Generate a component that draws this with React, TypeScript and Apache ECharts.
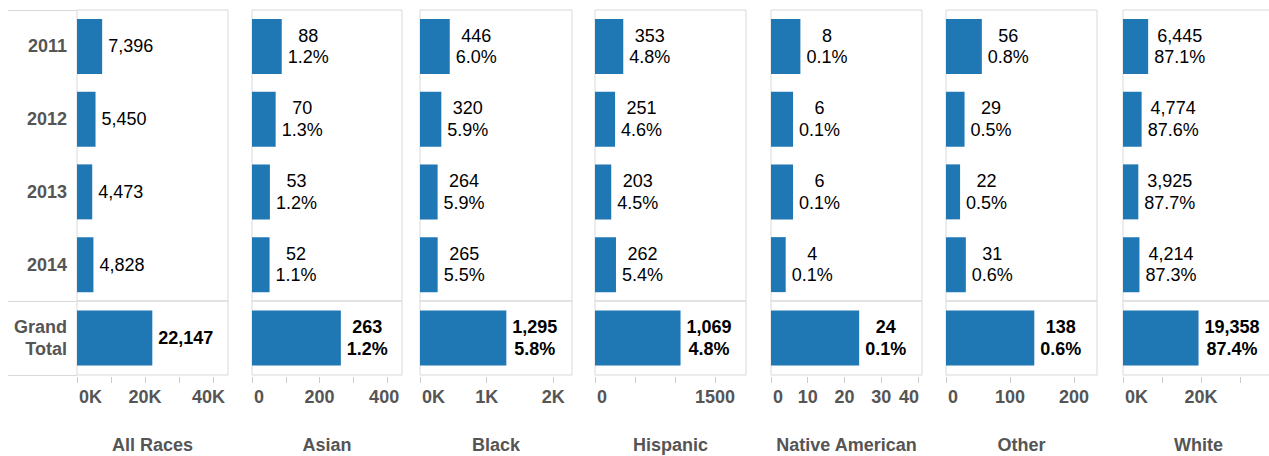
import React, { useEffect, useRef } from 'react';
import * as echarts from 'echarts';

// ---------- data ----------
const years = ['2011', '2012', '2013', '2014'];
const totalLabel = 'Grand Total';
const races = ['All Races', 'Asian', 'Black', 'Hispanic', 'Native American', 'Other', 'White'];
const allRaces = [7396, 5450, 4473, 4828];
const asian = [88, 70, 53, 52];
const black = [446, 320, 264, 265];
const hispanic = [353, 251, 203, 262];
const nativeAmerican = [8, 6, 6, 4];
const other = [56, 29, 22, 31];
const white = [6445, 4774, 3925, 4214];
const grandTotals = [22147, 263, 1295, 1069, 24, 138, 19358];
const yearValues = [allRaces, asian, black, hispanic, nativeAmerican, other, white];

// ---------- axes ----------
const axisMax = [44400, 444, 2280, 1887, 41.1, 236, 38700];
const tickValues = [
  [0, 10000, 20000, 30000, 40000],
  [0, 100, 200, 300, 400],
  [0, 1000, 2000],
  [0, 500, 1000, 1500],
  [0, 10, 20, 30, 40],
  [0, 100, 200],
  [0, 10000, 20000, 30000],
];
const tickLabels = [
  [0, 20000, 40000],
  [0, 200, 400],
  [0, 1000, 2000],
  [0, 1500],
  [0, 10, 20, 30, 40],
  [0, 100, 200],
  [0, 20000],
];
const kFormat = [true, false, true, false, false, false, true];

// ---------- layout ----------
const panelLeft = [77, 252, 420, 595, 771, 946, 1123];
const panelWidth = [151, 150, 152, 151, 151, 151, 151];
const maxLabelPad = [9, 6, 0, 0, 18, 0, 0];
const topY = 10;
const sepY = 301;
const bottomY = 375;

const FONT = '"Liberation Sans", Arial, sans-serif';
const FS = 18;
const BAR = '#1f77b4';
const GRID_LINE = '#d9d9d9';
const AXIS_TEXT = '#555555';

const fmt = (v: number) => v.toLocaleString('en-US');

function App() {
  const ref = useRef<HTMLDivElement>(null);
  useEffect(() => {
    if (!ref.current) return;
    const chart = echarts.init(ref.current, undefined, { renderer: 'svg' });
    const grids: any[] = [];
    const xAxes: any[] = [];
    const yAxes: any[] = [];
    const series: any[] = [];
    const axisFont = { fontFamily: FONT, fontSize: FS, fontWeight: 'bold', color: AXIS_TEXT };

    races.forEach((race, i) => {
      const left = panelLeft[i];
      const width = panelWidth[i];
      const common = { show: true, borderColor: GRID_LINE, borderWidth: 1, backgroundColor: 'transparent', outerBoundsMode: 'none' };
      grids.push({ ...common, left, width, top: topY, height: sepY - topY });
      grids.push({ ...common, left, width, top: sepY, height: bottomY - sepY });

      const labs = tickLabels[i];
      const lastLab = labs[labs.length - 1];
      const labelFmt = (v: number) => {
        const t = kFormat[i] ? `${v / 1000}K` : `${v}`;
        if (v === labs[0]) return `{mn|${t}}`;
        if (v === lastLab && maxLabelPad[i] > 0) return `{mx|${t}}`;
        return t;
      };

      xAxes.push({
        type: 'value', gridIndex: 2 * i, min: 0, max: axisMax[i], show: false,
      });
      xAxes.push({
        type: 'value', gridIndex: 2 * i + 1, min: 0, max: axisMax[i],
        offset: 2,
        axisLine: { show: false },
        splitLine: { show: false },
        axisTick: { show: true, customValues: tickValues[i], length: 6, lineStyle: { color: '#cccccc', width: 1 } },
        axisLabel: {
          customValues: labs, formatter: labelFmt, margin: 11,
          alignMinLabel: 'left',
          ...axisFont,
          rich: {
            mn: { ...axisFont, padding: [0, 0, 0, 2] },
            mx: { ...axisFont, padding: [0, maxLabelPad[i], 0, 0] },
          },
        },
        name: race, nameLocation: 'middle', nameGap: 59,
        nameTextStyle: axisFont,
      });

      const yLabel = {
        show: i === 0, margin: 10, ...axisFont, lineHeight: 22, align: 'right',
        formatter: (v: string) => v.replace(' ', '\n'),
      };
      yAxes.push({
        type: 'category', gridIndex: 2 * i, data: years, inverse: true,
        axisLine: { show: false }, axisTick: { show: false }, splitLine: { show: false },
        axisLabel: yLabel,
      });
      yAxes.push({
        type: 'category', gridIndex: 2 * i + 1, data: [totalLabel], inverse: true,
        axisLine: { show: false }, axisTick: { show: false }, splitLine: { show: false },
        axisLabel: yLabel,
      });

      const makeLabel = (bold: boolean, base: (idx: number) => number) => ({
        show: true,
        position: 'right',
        distance: 6,
        formatter: (p: any) => {
          const v = p.value as number;
          if (i === 0) return `{a|${fmt(v)}}`;
          const pct = ((v / base(p.dataIndex)) * 100).toFixed(1) + '%';
          return `{a|${fmt(v)}}\n{a|${pct}}`;
        },
        rich: {
          a: {
            align: 'center', fontFamily: FONT, fontSize: FS, lineHeight: 21.5,
            fontWeight: bold ? 'bold' : 'normal', color: '#000000',
          },
        },
      });

      series.push({
        type: 'bar', xAxisIndex: 2 * i, yAxisIndex: 2 * i, data: yearValues[i],
        barWidth: 55, itemStyle: { color: BAR },
        label: makeLabel(false, (idx) => allRaces[idx]),
      });
      series.push({
        type: 'bar', xAxisIndex: 2 * i + 1, yAxisIndex: 2 * i + 1, data: [grandTotals[i]],
        barWidth: 55, itemStyle: { color: BAR },
        label: makeLabel(true, () => grandTotals[0]),
      });
    });

    const hLine = (y: number) => ({
      type: 'line', shape: { x1: 8, y1: y, x2: panelLeft[0], y2: y },
      style: { stroke: GRID_LINE, lineWidth: 1 }, silent: true,
    });

    chart.setOption({
      animation: false,
      backgroundColor: '#ffffff',
      grid: grids,
      xAxis: xAxes,
      yAxis: yAxes,
      series,
      graphic: [hLine(topY + 0.5), hLine(sepY + 0.5), hLine(bottomY + 0.5)],
    });
    return () => chart.dispose();
  }, []);

  return (
    <div
      ref={ref}
      style={{ position: 'absolute', left: 0, top: 0, width: 1269, height: 456 }}
    />
  );
}

export default App;
